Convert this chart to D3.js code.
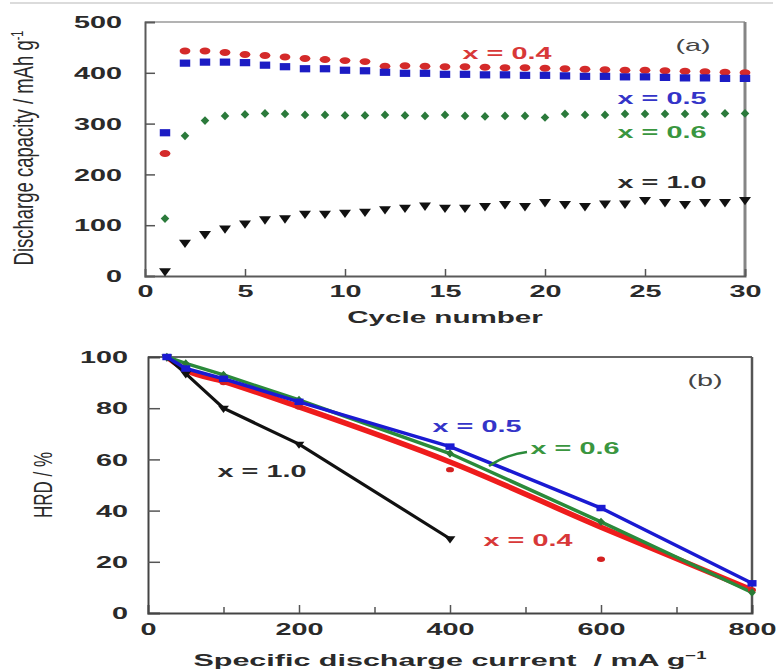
<!DOCTYPE html>
<html><head><meta charset="utf-8">
<script src="https://cdn.jsdelivr.net/npm/d3@7"></script>
<style>
body{margin:0;background:#fff}
svg{display:block}
text{font-family:"Liberation Sans",Arial,Helvetica,sans-serif}
</style>
</head><body>
<svg id="c" width="777" height="671"></svg>
<script>
// ---------- Panel (a) data ----------
const cycles = [1,2,3,4,5,6,7,8,9,10,11,12,13,14,15,16,17,18,19,20,21,22,23,24,25,26,27,28,29,30];
const capX04 = [241,443,443,440,436,434,431,428,426,424,422,413,414,413,412,412,411,410,410,409,408,407,406,405,405,404,403,402,401,400];
const capX05 = [282,419,421,421,420,415,412,408,408,405,404,401,399,399,397,397,396,396,395,395,394,393,393,392,392,391,390,390,389,389];
const capX06 = [113,276,306,315,318,320,319,317,317,316,316,317,316,315,317,315,314,315,315,312,319,317,317,319,319,319,319,319,320,320];
const capX10 = [10,66,83,94,104,112,114,123,123,125,127,132,135,139,135,135,138,142,138,146,142,138,143,143,150,146,142,146,146,150];
const capYTicks = [0,100,200,300,400,500];
const cycleTicks = [0,5,10,15,20,25,30];

// ---------- Panel (b) data ----------
const currents = [25,50,100,200,400,600,800];
const currentsX10 = [25,50,100,200,400];
const hrdX04pts = [100,94.5,90,80.5,56,21,9];
const hrdX04line = [100,95,90.5,80.5,59,33.5,9];
const hrdX05 = [100,95.5,91.5,82.5,65,41,11.6];
const hrdX06 = [100,97.5,93,83.2,62.3,35.6,8];
const hrdX10 = [100,93.5,80,66,29];
const hrdYTicks = [0,20,40,60,80,100];
const currentTicks = [0,200,400,600,800];
const currentMinor = [100,300,500,700];

const RED="#d42a2a", BLUE="#1c1cc4", GREEN="#2b7a3b", BLACK="#111";
const SX = 1.8; // horizontal stretch of the lettering

const svg = d3.select("#c");
svg.append("line").attr("x1",10).attr("x2",773).attr("y1",3).attr("y2",3)
  .attr("stroke","#cfcfcf").attr("stroke-width",1.5);

function stext(g, x, y, str, opt){
  opt = opt||{};
  return g.append("text")
    .attr("transform",`translate(${x},${y}) scale(${opt.sx||SX},1)`)
    .attr("text-anchor",opt.anchor||"middle")
    .attr("font-size",opt.size||16)
    .attr("font-weight",opt.weight||"bold")
    .attr("fill",opt.fill||"#222")
    .text(str);
}

// ================= Panel (a) =================
const xa = d3.scaleLinear().domain([0,30]).range([145,745]);
const ya = d3.scaleLinear().domain([0,500]).range([276,22]);
const ga = svg.append("g");

ga.append("line").attr("x1",xa(0)).attr("x2",xa(30)).attr("y1",ya(500)).attr("y2",ya(500)).attr("stroke","#9a9a9a").attr("stroke-width",1.5);
ga.append("line").attr("x1",xa(30)).attr("x2",xa(30)).attr("y1",ya(500)).attr("y2",ya(0)).attr("stroke","#858585").attr("stroke-width",3);

const ayA = ga.append("g").attr("transform",`translate(${xa(0)},0)`)
  .call(d3.axisLeft(ya).tickValues(capYTicks).tickSize(-10).tickPadding(0));
const axA = ga.append("g").attr("transform",`translate(0,${ya(0)})`)
  .call(d3.axisBottom(xa).tickValues(cycleTicks).tickSize(-7).tickPadding(0));
[ayA,axA].forEach(a=>{
  a.select(".domain").attr("stroke","#5a5a5a").attr("stroke-width",2);
  a.selectAll(".tick line").attr("stroke","#555").attr("stroke-width",1.5);
  a.selectAll("text").attr("font-size",16).attr("font-weight","bold").attr("fill","#2a2a2a")
    .attr("font-family","Liberation Sans, Arial, sans-serif");
});
ayA.selectAll(".tick").filter(d=>d===0||d===500).select("line").remove();
axA.selectAll(".tick").filter(d=>d===0||d===30).select("line").remove();
ayA.selectAll("text").attr("x",null).attr("dy",null).attr("text-anchor","end")
  .attr("transform",`translate(-23,5.7) scale(${SX},1)`);
axA.selectAll("text").attr("y",null).attr("dy",null).attr("text-anchor","middle")
  .attr("transform",`translate(0,21) scale(${SX},1)`);

const symA = [
  {v:capX04, type:d3.symbolCircle, size:38, sx:1.55, rot:0, fill:RED},
  {v:capX05, type:d3.symbolSquare, size:52, sx:1.45, rot:0, fill:BLUE},
  {v:capX06, type:d3.symbolDiamond, size:22, sx:1.7, rot:0, fill:GREEN},
  {v:capX10, type:d3.symbolTriangle, size:40, sx:1.25, rot:180, fill:BLACK}
];
[3,2,0,1].forEach(i=>{
  const s = symA[i];
  ga.append("g").selectAll("path").data(cycles.map((c,j)=>[c,s.v[j]])).join("path")
    .attr("d", d3.symbol().type(s.type).size(s.size)())
    .attr("transform", d=>`translate(${xa(d[0])},${ya(d[1])}) scale(${s.sx},1) rotate(${s.rot})`)
    .attr("fill", s.fill);
});

stext(ga,507,59,"x = 0.4",{fill:"#d83838"});
stext(ga,662,104,"x = 0.5",{fill:"#3434c8"});
stext(ga,662,138,"x = 0.6",{fill:"#3a963f"});
stext(ga,662,188,"x = 1.0",{fill:"#2a2a2a"});
stext(ga,693,51,"(a)",{fill:"#444",weight:"normal"});
stext(ga,445,323,"Cycle number",{fill:"#2a2a2a",sx:1.85});
{
  const t = ga.append("text")
    .attr("transform","translate(33,148) scale(1.5,1) rotate(-90)")
    .attr("text-anchor","middle").attr("font-size",18.5).attr("fill","#2a2a2a");
  t.append("tspan").text("Discharge capacity / mAh g");
  t.append("tspan").attr("dy",-7).attr("font-size",11).text("-1");
}

// ================= Panel (b) =================
const xb = d3.scaleLinear().domain([0,800]).range([148,752]);
const yb = d3.scaleLinear().domain([0,100]).range([613,357]);
const gb = svg.append("g");

gb.append("line").attr("x1",xb(0)).attr("x2",xb(800)).attr("y1",yb(100)).attr("y2",yb(100)).attr("stroke","#333").attr("stroke-width",1.5);
gb.append("line").attr("x1",xb(800)).attr("x2",xb(800)).attr("y1",yb(100)).attr("y2",yb(0)).attr("stroke","#555").attr("stroke-width",2.5);

const ayB = gb.append("g").attr("transform",`translate(${xb(0)},0)`)
  .call(d3.axisLeft(yb).tickValues(hrdYTicks).tickSize(-12).tickPadding(0));
const axB = gb.append("g").attr("transform",`translate(0,${yb(0)})`)
  .call(d3.axisBottom(xb).tickValues(currentTicks).tickSize(-8).tickPadding(0));
const axBm = gb.append("g").attr("transform",`translate(0,${yb(0)})`)
  .call(d3.axisBottom(xb).tickValues(currentMinor).tickSize(-6).tickFormat(""));
axBm.select(".domain").remove();
[ayB,axB,axBm].forEach(a=>{
  a.select(".domain").attr("stroke","#444").attr("stroke-width",2);
  a.selectAll(".tick line").attr("stroke","#555").attr("stroke-width",1.5);
  a.selectAll("text").attr("font-size",16).attr("font-weight","bold").attr("fill","#2a2a2a")
    .attr("font-family","Liberation Sans, Arial, sans-serif");
});
ayB.selectAll(".tick").filter(d=>d===0||d===100).select("line").remove();
axB.selectAll(".tick").filter(d=>d===0||d===800).select("line").remove();
ayB.selectAll("text").attr("x",null).attr("dy",null).attr("text-anchor","end")
  .attr("transform",`translate(-20,5.7) scale(${SX},1)`);
axB.selectAll("text").attr("y",null).attr("dy",null).attr("text-anchor","middle")
  .attr("transform",`translate(0,22) scale(${SX},1)`);

const lineB = d3.line().x(d=>xb(d[0])).y(d=>yb(d[1]));
const zip = (xs,ys)=>xs.map((x,i)=>[x,ys[i]]);

gb.append("path").attr("d", lineB.curve(d3.curveMonotoneX)(zip(currents,hrdX04line)))
  .attr("fill","none").attr("stroke","#ee1c1c").attr("stroke-width",5.5).attr("stroke-linejoin","round");
lineB.curve(d3.curveLinear);
gb.append("path").attr("d", lineB(zip(currentsX10,hrdX10)))
  .attr("fill","none").attr("stroke",BLACK).attr("stroke-width",3.2);
gb.append("path").attr("d", lineB(zip(currents,hrdX06)))
  .attr("fill","none").attr("stroke","#2a8a3a").attr("stroke-width",3.5);
gb.append("path").attr("d", lineB(zip(currents,hrdX05)))
  .attr("fill","none").attr("stroke","#1a1ad2").attr("stroke-width",3.5);

const symB = [
  {x:currents, v:hrdX04pts, type:d3.symbolCircle, size:22, sx:1.5, rot:0, fill:"#d42020"},
  {x:currentsX10, v:hrdX10, type:d3.symbolTriangle, size:30, sx:1.3, rot:180, fill:BLACK},
  {x:currents, v:hrdX06, type:d3.symbolDiamond, size:20, sx:1.6, rot:0, fill:"#2a7a35"},
  {x:currents, v:hrdX05, type:d3.symbolSquare, size:42, sx:1.4, rot:0, fill:"#1a1ad2"}
];
symB.forEach(s=>{
  gb.append("g").selectAll("path").data(zip(s.x,s.v)).join("path")
    .attr("d", d3.symbol().type(s.type).size(s.size)())
    .attr("transform", d=>`translate(${xb(d[0])},${yb(d[1])}) scale(${s.sx},1) rotate(${s.rot})`)
    .attr("fill", s.fill);
});

stext(gb,705,386,"(b)",{fill:"#444",weight:"normal"});
stext(gb,477,432,"x = 0.5",{fill:"#3434c8"});
stext(gb,575,454,"x = 0.6",{fill:"#3a963f"});
stext(gb,528,546,"x = 0.4",{fill:"#d83838"});
stext(gb,262,477,"x = 1.0",{fill:"#2a2a2a"});
gb.append("path").attr("d","M527,452 Q505,455 489,466").attr("fill","none")
  .attr("stroke","#2a8a3a").attr("stroke-width",2.5);
{
  const t = gb.append("text")
    .attr("transform","translate(450,666) scale(1.85,1)")
    .attr("text-anchor","middle").attr("font-size",16.5).attr("font-weight","bold").attr("fill","#2a2a2a")
    .attr("xml:space","preserve");
  t.append("tspan").text("Specific discharge current  / mA g");
  t.append("tspan").attr("dy",-7).attr("font-size",10).text("\u22121");
}
gb.append("text")
  .attr("transform","translate(52,485) scale(1.55,1) rotate(-90)")
  .attr("text-anchor","middle").attr("font-size",17).attr("fill","#2a2a2a")
  .text("HRD / %");
</script>
</body></html>
